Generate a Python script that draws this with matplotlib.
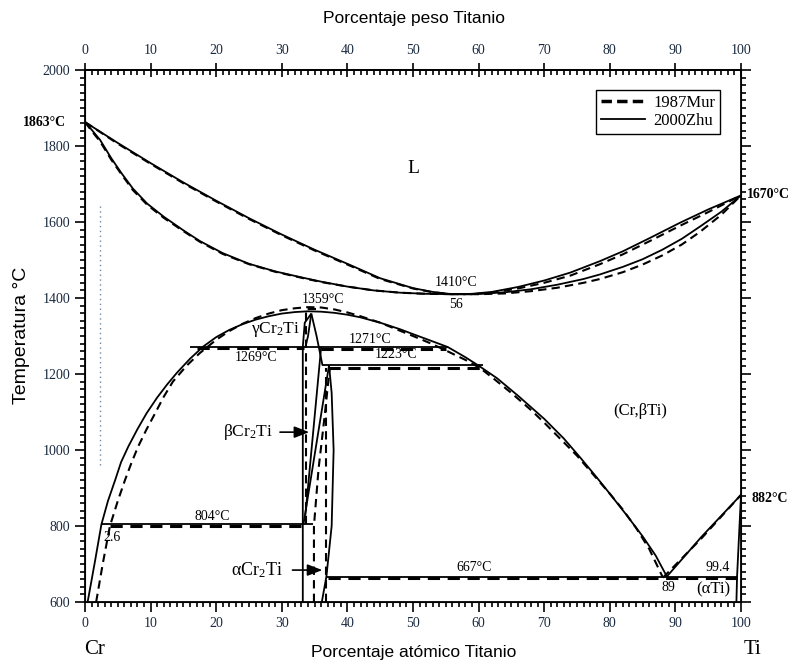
import matplotlib
matplotlib.use("Agg")
import matplotlib.pyplot as plt
from matplotlib.lines import Line2D
import numpy as np

plt.rcParams["mathtext.fontset"] = "custom"
plt.rcParams["mathtext.rm"] = "Liberation Serif"
plt.rcParams["mathtext.it"] = "Liberation Serif:italic"

# ---------------- data (atomic % Ti, temperature in C) ----------------
# 2000Zhu (solid)
zhu_liq_x = [0, 5, 10, 15, 20, 25, 30, 35, 40, 45, 50, 53, 56, 59, 62, 66, 70, 74, 78.5, 82, 86, 90.7, 95, 100]
zhu_liq_T = [1863, 1808, 1755, 1704, 1656, 1610, 1567, 1527, 1490, 1452, 1426, 1416, 1410, 1411, 1416, 1429, 1446, 1467, 1497, 1523, 1557, 1598, 1633, 1670]
zhu_sol_x = [0, 1, 2.3, 4, 5.5, 7.3, 9.5, 12, 15, 17.5, 21, 25, 29, 32.8, 36, 40, 44, 48, 52, 56,
             60, 64, 68, 72, 76, 78.5, 82, 85, 88, 91, 93.75, 97, 100]
zhu_sol_T = [1863, 1843, 1816, 1768, 1730, 1688, 1648, 1614, 1578, 1550, 1518, 1490, 1470, 1455, 1443, 1430, 1420, 1414, 1411, 1410,
             1411, 1415, 1423, 1435, 1450, 1462, 1482, 1502, 1527, 1556, 1588, 1627, 1670]
zhu_dome_x = [0.4, 1.5, 2.5, 3.5, 4.6, 5.5, 6.6, 8, 9.4, 11, 12.5, 14, 16, 18, 20, 22, 24, 26, 28, 30, 32, 34, 36, 38,
              40, 42, 45, 48, 50, 52.5, 55.3, 58, 60, 62.8, 66, 70, 73, 75.5, 78, 80, 82.5, 85, 87, 88.7]
zhu_dome_T = [600, 705, 804, 866, 921, 968, 1009, 1055, 1097, 1138, 1172, 1203, 1240, 1272, 1297, 1316, 1331, 1343, 1352, 1359, 1363, 1365, 1364, 1361,
              1356, 1349, 1335, 1318, 1305, 1289, 1271, 1244, 1222, 1189, 1143, 1082, 1030, 980, 928, 885, 830, 773, 722, 667]
zhu_ti_x = [88.7, 94, 100]
zhu_ti_T = [667, 772, 882]
zhu_ati_x = [100, 99.4, 99.3]
zhu_ati_T = [882, 667, 600]

# 1987Mur (dashed)
mur_liq_x = zhu_liq_x
mur_liq_T = [1863, 1806, 1753, 1702, 1654, 1608, 1565, 1525, 1488, 1450, 1425, 1415, 1410, 1410, 1414, 1425, 1440, 1459, 1489, 1515, 1549, 1590, 1626, 1670]
mur_sol_x = zhu_sol_x
mur_sol_T = [1863, 1840, 1812, 1764, 1727, 1684, 1645, 1611, 1576, 1548, 1516, 1489, 1469, 1454, 1442, 1430, 1420, 1414, 1411, 1410,
             1410, 1412, 1418, 1427, 1440, 1450, 1468, 1488, 1512, 1541, 1574, 1619, 1670]
mur_dome_x = [1.7, 2.7, 3.8, 5, 6.1, 7.1, 8.1, 9.4, 10.7, 12, 13.4, 15.5, 17.5, 20, 22, 24, 26, 28, 30, 32, 34, 36, 38,
              40, 42, 45, 48, 50, 52.5, 55, 58, 60.2, 62.5, 65, 68, 70, 73, 75, 77, 80, 82, 84, 86, 88.1]
mur_dome_T = [600, 700, 800, 866, 921, 967, 1009, 1055, 1097, 1140, 1180, 1222, 1255, 1290, 1313, 1332, 1347, 1359, 1368, 1373, 1376, 1375, 1370,
              1362, 1352, 1335, 1314, 1300, 1282, 1262, 1237, 1216, 1185, 1150, 1105, 1072, 1020, 985, 945, 885, 843, 795, 740, 664]
mur_ti_x = [88.1, 94, 100]
mur_ti_T = [664, 768, 882]

# invariant lines (x_start, x_end, T)
zhu_iso = [(2.5, 34.8, 804), (16.0, 55.3, 1271), (36.2, 60.7, 1223), (36.9, 99.4, 667)]
mur_iso = [(3.8, 33.3, 800), (17.0, 33.4, 1269), (36.0, 55.0, 1267), (37.0, 60.2, 1216), (37.0, 99.4, 664)]

# Cr2Ti phase boundaries
zhu_c1_x = [33.2, 33.2, 33.5, 34.5]
zhu_c1_T = [600, 1271, 1335, 1359]
zhu_c2_x = [34.5, 35.3, 36.2]
zhu_c2_T = [1359, 1300, 1223]
zhu_c3_x = [34.5, 34.0, 33.6]
zhu_c3_T = [1359, 1300, 1271]
zhu_c4_x = [33.3, 37.2]
zhu_c4_T = [804, 1223]
zhu_c5_x = [33.6, 36.0]
zhu_c5_T = [830, 1271]
zhu_c6_x = [36.1, 36.8, 37.6, 37.9, 37.6, 37.2]
zhu_c6_T = [600, 667, 800, 1000, 1150, 1223]
mur_c1_x = [33.7, 33.7, 35.2]
mur_c1_T = [804, 1372, 1372]
mur_c2_x = [34.9, 34.9, 35.6, 36.6, 37.3]
mur_c2_T = [600, 800, 950, 1100, 1216]
mur_c3_x = [36.8, 36.8]
mur_c3_T = [600, 1216]

dots_x = [2.3, 2.3]
dots_T = [960, 1645]

# ---------------- figure ----------------
fig = plt.figure(figsize=(7.97, 6.69), dpi=100)
ax = fig.add_axes([85/797, 67/669, 656/797, 532/669])
ax.set_xlim(0, 100)
ax.set_ylim(600, 2000)

SER = "Liberation Serif"
SAN = "Liberation Sans"
lw_s = 1.3
lw_d = 2.2
dash = (0, (4, 2.5))

def solid(x, y):
    ax.plot(x, y, color="black", lw=lw_s, solid_capstyle="butt", solid_joinstyle="round")

for xs, Ts in [(zhu_liq_x, zhu_liq_T), (zhu_sol_x, zhu_sol_T), (zhu_dome_x, zhu_dome_T),
               (zhu_ti_x, zhu_ti_T), (zhu_ati_x, zhu_ati_T), (zhu_c1_x, zhu_c1_T),
               (zhu_c2_x, zhu_c2_T), (zhu_c3_x, zhu_c3_T), (zhu_c4_x, zhu_c4_T),
               (zhu_c5_x, zhu_c5_T), (zhu_c6_x, zhu_c6_T)]:
    solid(xs, Ts)
for xs, Ts in [(mur_liq_x, mur_liq_T), (mur_sol_x, mur_sol_T), (mur_dome_x, mur_dome_T),
               (mur_ti_x, mur_ti_T), (mur_c1_x, mur_c1_T), (mur_c2_x, mur_c2_T),
               (mur_c3_x, mur_c3_T)]:
    ax.plot(xs, Ts, color="black", lw=1.5, linestyle=dash)
for x0, x1, T in zhu_iso:
    solid([x0, x1], [T, T])
for x0, x1, T in mur_iso:
    ax.plot([x0, x1], [T, T], color="black", lw=lw_d, linestyle=dash)

ax.plot(dots_x, dots_T, color="#6f8aa3", lw=1.0, linestyle=(0, (1, 2.5)))

# ---------------- labels inside ----------------
def t(x, y, s, size=11, **kw):
    ax.text(x, y, s, fontsize=size, family=SER, ha="center", va="center", **kw)

t(50, 1742, "L", size=14)
t(56.6, 1440, "1410°C", size=10)
t(56.5, 1384, "56", size=10)
t(36.3, 1395, "1359°C", size=10)
t(29.0, 1318, r"γCr$_2$Ti", size=12.5)
t(43.5, 1290, "1271°C", size=10)
t(26.0, 1243, "1269°C", size=10)
t(47.4, 1251, "1223°C", size=10)
t(84.6, 1103, "(Cr,βTi)", size=12)
t(19.4, 824, "804°C", size=10)
t(4.1, 771, "2.6", size=10)
t(59.3, 692, "667°C", size=10)
t(96.5, 692, "99.4", size=10)
t(89.0, 637, "89", size=10)
t(95.8, 632, "(αTi)", size=12)
t(24.9, 1047, r"βCr$_2$Ti", size=12.5)
t(26.2, 684, r"αCr$_2$Ti", size=13)

ax.annotate("", xy=(34.6, 1047), xytext=(29.3, 1047),
            arrowprops=dict(arrowstyle="-|>,head_length=0.9,head_width=0.35", color="black", lw=1.2))
ax.annotate("", xy=(36.6, 684), xytext=(31.2, 684),
            arrowprops=dict(arrowstyle="-|>,head_length=0.9,head_width=0.35", color="black", lw=1.2))

# ---------------- legend ----------------
handles = [Line2D([0], [0], color="black", lw=2.5, linestyle=(0, (3, 1.5))),
           Line2D([0], [0], color="black", lw=1.3)]
leg = ax.legend(handles, ["1987Mur", "2000Zhu"], loc="upper right",
                bbox_to_anchor=(0.968, 0.962), borderaxespad=0, fancybox=False,
                edgecolor="black", framealpha=1, prop={"family": SER, "size": 12},
                handlelength=2.6, handletextpad=0.5, labelspacing=0.1, borderpad=0.3)
leg.get_frame().set_linewidth(1.0)

# ---------------- axes / ticks ----------------
ax.set_xticks(np.arange(0, 101, 10))
ax.set_xticks(np.arange(0, 101, 1), minor=True)
ax.set_yticks(np.arange(600, 2001, 200))
ax.set_yticks(np.arange(600, 2001, 20), minor=True)
ax.tick_params(axis="both", which="both", direction="out", labelsize=10, width=1.2)
ax.tick_params(which="major", length=7)
ax.tick_params(which="minor", length=3.5)
ax.tick_params(right=True, which="both")
for lab in ax.get_xticklabels() + ax.get_yticklabels():
    lab.set_family(SER)
    lab.set_color("#1a2a40")
for sp in ax.spines.values():
    sp.set_linewidth(1.3)

top = ax.twiny()
top.set_xlim(0, 100)
top.set_xticks(np.arange(0, 101, 10))
top.set_xticks(np.arange(0, 101, 1), minor=True)
top.tick_params(which="major", direction="inout", length=10, width=1.2, labelsize=10, pad=4)
top.tick_params(which="minor", direction="in", length=3.5, width=1.2)
for lab in top.get_xticklabels():
    lab.set_family(SER)
    lab.set_color("#1a2a40")
top.spines["top"].set_linewidth(1.3)

fig.text(414/797, 1 - 653/669, "Porcentaje atómico Titanio", family=SAN, fontsize=12.5, ha="center", va="center")
fig.text(414/797, 1 - 18/669, "Porcentaje peso Titanio", family=SAN, fontsize=12.5, ha="center", va="center")
fig.text(22/797, 1 - 335/669, "Temperatura °C", family=SAN, fontsize=14, ha="center", va="center", rotation=90)

# end labels outside axes
fig.text(45/797, 1 - 122/669, "1863°C", family=SER, fontsize=10, fontweight="bold", ha="center", va="center")
fig.text(768/797, 1 - 195/669, "1670°C", family=SER, fontsize=10, fontweight="bold", ha="center", va="center")
fig.text(770/797, 1 - 499/669, "882°C", family=SER, fontsize=10, fontweight="bold", ha="center", va="center")
fig.text(95/797, 1 - 650/669, "Cr", family=SER, fontsize=15, ha="center", va="center")
fig.text(752/797, 1 - 650/669, "Ti", family=SER, fontsize=15, ha="center", va="center")

fig.savefig("out.png", dpi=100)
